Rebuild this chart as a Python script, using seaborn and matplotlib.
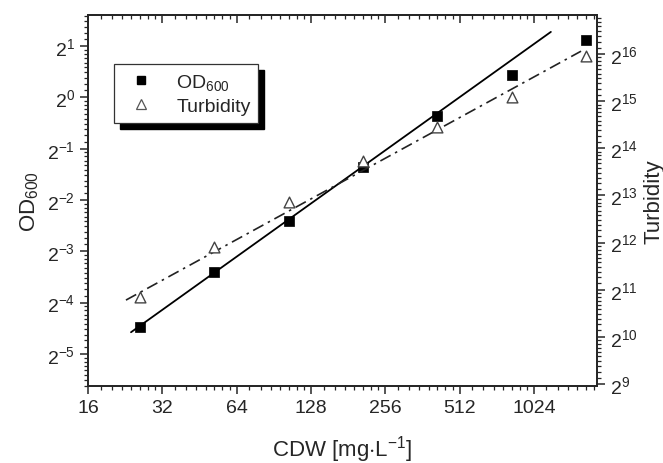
import numpy as np
import pandas as pd
import matplotlib
matplotlib.use("Agg")
import matplotlib.pyplot as plt
import matplotlib.ticker as mticker
from matplotlib.patches import Rectangle
from matplotlib.transforms import IdentityTransform
import seaborn as sns

# values
cdw = [26, 52, 104, 208, 416, 832, 1664]
od600 = [0.045, 0.094, 0.188, 0.39, 0.776, 1.35, 2.17]
turbidity = [1833, 3820, 7430, 13600, 22400, 34900, 63900]

# fitted lines (end points)
fit_cdw_od = [23.9, 1200]
fit_od = [0.0419, 2.42]
fit_cdw_turb = [22.8, 1590]
fit_turb = [1758, 68300]

sns.set_style("ticks")
plt.rcParams.update({
    "font.family": ["Liberation Sans", "DejaVu Sans"],
    "mathtext.fontset": "custom",
    "mathtext.rm": "Liberation Sans",
    "mathtext.it": "Liberation Sans:italic",
    "mathtext.bf": "Liberation Sans:bold",
    "axes.linewidth": 1.3,
    "axes.unicode_minus": False,
})

pts = pd.DataFrame({"cdw": cdw, "od": od600, "turb": turbidity})
fit_a = pd.DataFrame({"cdw": fit_cdw_od, "od": fit_od})
fit_b = pd.DataFrame({"cdw": fit_cdw_turb, "turb": fit_turb})

fig = plt.figure(figsize=(6.63, 4.64), dpi=100)
ax = fig.add_axes([0.1327, 0.166, 0.7678, 0.7995])
ax2 = ax.twinx()

sns.lineplot(data=fit_a, x="cdw", y="od", color="black", lw=1.3, ax=ax)
sns.scatterplot(data=pts, x="cdw", y="od", marker="s", s=42, color="black",
                edgecolor="black", linewidth=0.5, ax=ax, legend=False,
                zorder=3)
sns.lineplot(data=fit_b, x="cdw", y="turb", color="#222222", lw=1.2,
             ax=ax2)
ax2.lines[-1].set_linestyle((0, (7, 3, 1.5, 3)))
sns.scatterplot(data=pts, x="cdw", y="turb", marker="^", s=60,
                facecolor="white", edgecolor="#444444", linewidth=1.0,
                ax=ax2, legend=False, zorder=3)

ax.set_xscale("log", base=2)
ax.set_yscale("log", base=2)
ax2.set_yscale("log", base=2)
ax.set_xlim(16, 2 ** 10.85)
ax.set_ylim(2 ** -5.624, 2 ** 1.604)
ax2.set_ylim(2 ** 8.958, 2 ** 16.827)

pow_fmt = mticker.FuncFormatter(
    lambda v, p: r"$2^{%d}$" % round(np.log2(v)))
x_minor = np.arange(1.125, 2, 0.125)
ax.xaxis.set_major_locator(mticker.LogLocator(base=2))
ax.xaxis.set_major_formatter(mticker.FuncFormatter(lambda v, p: "%d" % v))
ax.xaxis.set_minor_locator(mticker.LogLocator(base=2, subs=x_minor, numticks=50))
ax.xaxis.set_minor_formatter(mticker.NullFormatter())
for a in (ax, ax2):
    a.yaxis.set_major_locator(mticker.LogLocator(base=2, numticks=20))
    a.yaxis.set_major_formatter(pow_fmt)
    a.yaxis.set_minor_locator(mticker.LogLocator(base=2, subs=np.arange(1.1, 2, 0.1), numticks=50))
    a.yaxis.set_minor_formatter(mticker.NullFormatter())
    a.tick_params(which="major", length=6, width=1.1, labelsize=14, direction="out")
    a.tick_params(which="minor", length=3, width=0.9, direction="out")

# top axis with inward ticks
top = ax.secondary_xaxis("top")
top.xaxis.set_major_locator(mticker.LogLocator(base=2))
top.xaxis.set_minor_locator(mticker.LogLocator(base=2, subs=x_minor, numticks=50))
top.xaxis.set_major_formatter(mticker.NullFormatter())
top.xaxis.set_minor_formatter(mticker.NullFormatter())
top.tick_params(which="major", direction="in", length=6, width=1.1)
top.tick_params(which="minor", direction="in", length=3, width=0.9)

for a in (ax, ax2):
    for s in a.spines.values():
        s.set_visible(True)
        s.set_linewidth(1.3)

ax.set_xlabel("CDW [mg$\\cdot$L$^{-1}$]", fontsize=16, labelpad=12)
ax.set_ylabel("OD$_{600}$", fontsize=16, labelpad=4)
ax2.set_ylabel("Turbidity", fontsize=16, labelpad=4)

h_od = plt.Line2D([], [], ls="none", marker="s", ms=6, color="black")
h_tb = plt.Line2D([], [], ls="none", marker="^", ms=7, mfc="white",
                  mec="#555555", mew=0.9)
leg = ax2.legend([h_od, h_tb], ["OD$_{600}$", "Turbidity"],
                 loc="upper left", bbox_to_anchor=(0.051, 0.868),
                 borderaxespad=0, fontsize=14, frameon=True,
                 fancybox=False, edgecolor="#333333", framealpha=1,
                 handletextpad=0.8, labelspacing=0.3, borderpad=0.4)
leg.get_frame().set_linewidth(0.9)

# heavier drop shadow behind the legend box
fig.canvas.draw()
bb = leg.get_window_extent()
ax2.add_patch(Rectangle((bb.x0 + 6, bb.y0 - 6), bb.width, bb.height,
                        transform=IdentityTransform(), color="black",
                        zorder=4.9, clip_on=False))

fig.savefig("out.png", dpi=100)
